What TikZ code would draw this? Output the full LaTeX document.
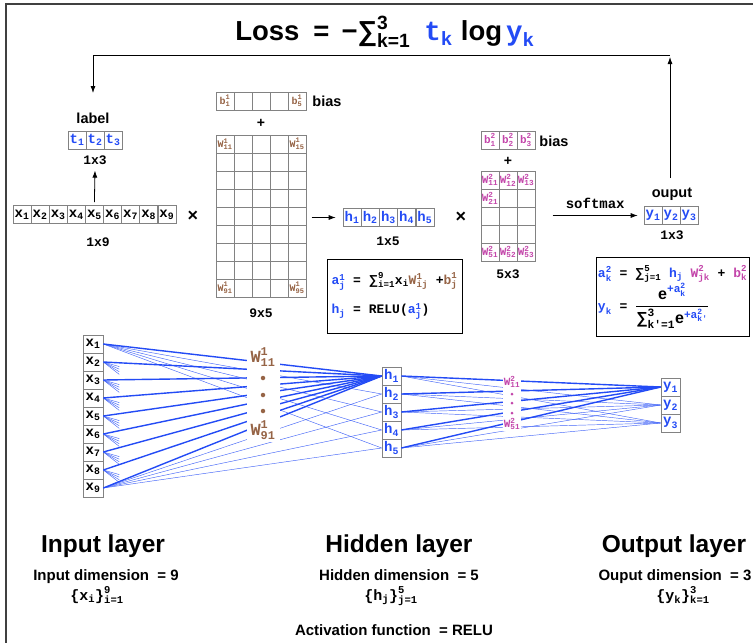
\documentclass[tikz,border=0pt]{standalone}
\usepackage{fontspec}
\usepackage{amsmath}
\setmainfont{Liberation Sans}
\setsansfont{Liberation Sans}
\setmonofont{Liberation Mono}
\usetikzlibrary{arrows.meta,calc}
\definecolor{nnblue}{RGB}{35,75,245}
\definecolor{wbrown}{RGB}{150,100,70}
\definecolor{wpink}{RGB}{195,70,170}
\definecolor{cellgray}{RGB}{130,130,130}
\newcommand{\nnsub}[2]{\ensuremath{\text{#1}_{\text{#2}}}}
\newcommand{\nnss}[3]{\ensuremath{\text{#1}^{\text{#2}}_{\text{#3}}}}
\newcommand{\nnexpa}[1]{\ensuremath{\text{\sffamily e}^{\text{\color{nnblue}+a}^{\text{\color{nnblue}2}}_{\text{\color{nnblue}#1}}}}}
\begin{document}
\begin{tikzpicture}[x=1pt,y=-1pt,
  arr/.style={-{Latex[length=7pt,width=5pt]}, line width=0.8pt},
  lbl/.style={font=\bfseries\fontsize{14.5}{14.5}\selectfont, inner sep=0pt},
  dimlbl/.style={font=\ttfamily\bfseries\fontsize{13}{13}\selectfont, inner sep=0pt},
  cell/.style={draw=cellgray, line width=0.6pt, minimum width=18pt, minimum height=18pt, inner sep=0pt, font=\ttfamily\bfseries\fontsize{14}{14}\selectfont},
  ncell/.style={cell, minimum width=20pt},
  mtext/.style={inner sep=0pt, font=\ttfamily\bfseries\fontsize{10}{10}\selectfont},
  ptext/.style={inner sep=0pt, font=\ttfamily\bfseries\fontsize{11}{11}\selectfont},
  opsign/.style={inner sep=0pt, font=\bfseries\fontsize{18}{18}\selectfont},
  fbox/.style={draw, line width=1pt, align=left, inner sep=0pt, font=\ttfamily\bfseries\fontsize{13}{13}\selectfont},
  wthick/.style={nnblue, line width=1.4pt},
  wthin/.style={nnblue!85, line width=0.45pt},
  big/.style={inner sep=0pt, anchor=base, font=\bfseries\fontsize{24.5}{24.5}\selectfont},
  mid/.style={inner sep=0pt, anchor=base, font=\bfseries\fontsize{15}{15}\selectfont},
  setl/.style={inner sep=0pt, anchor=base, font=\ttfamily\bfseries\fontsize{15}{15}\selectfont}
]
\useasboundingbox (0,0) rectangle (753,643);
\draw[line width=1.2pt, black!75] (753,4) -- (6,4) -- (6,643);

% Loss
\node[inner sep=0pt, anchor=base, font=\bfseries\fontsize{27.5}{27.5}\selectfont] (loss) at (385,40)
  {Loss\hspace{14pt}=\hspace{12pt}−\nnss{∑}{3}{k=1}\hspace{14pt}{\ttfamily\color{nnblue}\nnsub{t}{k}}\hspace{8pt}log\hspace{4pt}{\ttfamily\color{nnblue}\nnsub{y}{k}}};

% label and input vector
\node[lbl] (lab) at (93,118) {label};
\foreach \i/\xx in {1/77,2/95,3/113} \node[cell,text=nnblue] (t\i) at (\xx,140) {\nnsub{t}{\i}};
\node[dimlbl] (d13a) at (95,160) {1x3};
\foreach \i in {1,...,9} \node[cell] (x\i) at ({22+18.1*(\i-1)},214.5) {\nnsub{x}{\i}};
\node[dimlbl] (d19) at (98,242) {1x9};
\node[opsign] (mul1) at (193,216) {×};
\draw[arr] ([yshift=3pt]x5.north) -- ([yshift=-6pt]d13a.south);

% W1 and b1
\foreach \c in {1,...,5} \node[cell] (bA\c) at ({225+18*(\c-1)},101) {};
\node[mtext,text=wbrown] (lbA1) at (bA1) {\nnss{b}{1}{1}};
\node[mtext,text=wbrown] (lbA5) at (bA5) {\nnss{b}{1}{5}};
\node[lbl] (biasA) at (327,101) {bias};
\node[inner sep=0pt, font=\bfseries\fontsize{14}{14}\selectfont] (plusA) at (261,123) {+};
\foreach \r in {1,...,9}\foreach \c in {1,...,5} \node[cell] (wA\r\c) at ({225+18*(\c-1)},{144+18*(\r-1)}) {};
\node[mtext,text=wbrown] (lwA11) at (wA11) {\nnss{W}{1}{11}};
\node[mtext,text=wbrown] (lwA15) at (wA15) {\nnss{W}{1}{15}};
\node[mtext,text=wbrown] (lwA91) at (wA91) {\nnss{W}{1}{91}};
\node[mtext,text=wbrown] (lwA95) at (wA95) {\nnss{W}{1}{95}};
\node[dimlbl] (d95) at (261,313) {9x5};

% hidden vector
\foreach \i in {1,...,5} \node[cell,text=nnblue] (h\i) at ({352+18.2*(\i-1)},217.5) {\nnsub{h}{\i}};
\node[dimlbl] (d15) at (388,241) {1x5};
\node[opsign] (mul2) at (461,217) {×};
\draw[arr] ([xshift=-31pt]h1.west) -- ([xshift=-7pt]h1.west);

\node[fbox, minimum width=135pt, minimum height=74pt] (f1) at (394.5,296)
 {{\color{nnblue}\nnss{a}{1}{j}} = \nnss{\sffamily ∑}{9}{i=1}\nnsub{x}{i}{\color{wbrown}\nnss{W}{1}{ij}} +{\color{wbrown}\nnss{b}{1}{j}}\\[12pt]
  {\color{nnblue}\nnsub{h}{j}} = RELU({\color{nnblue}\nnss{a}{1}{j}})};

% W2 and b2
\foreach \c in {1,2,3} \node[cell] (bB\c) at ({490+18*(\c-1)},140) {};
\foreach \c in {1,2,3} \node[ptext,text=wpink] (lbB\c) at (bB\c) {\nnss{b}{2}{\c}};
\node[lbl] (biasB) at (554,141) {bias};
\node[inner sep=0pt, font=\bfseries\fontsize{14}{14}\selectfont] (plusB) at (508,161) {+};
\foreach \r in {1,...,5}\foreach \c in {1,2,3} \node[cell] (wB\r\c) at ({490+18*(\c-1)},{180+18*(\r-1)}) {};
\foreach \c in {1,2,3} \node[ptext,text=wpink] (lwB1\c) at (wB1\c) {\nnss{W}{2}{1\c}};
\node[ptext,text=wpink] (lwB21) at (wB21) {\nnss{W}{2}{21}};
\foreach \c in {1,2,3} \node[ptext,text=wpink] (lwB5\c) at (wB5\c) {\nnss{W}{2}{5\c}};
\node[dimlbl] (d53) at (508,274) {5x3};

% output
\node[lbl] (outlab) at (672,194) {ouput};
\foreach \i/\xx in {1/653,2/671,3/689} \node[cell,text=nnblue] (y\i) at (\xx,215.5) {\nnsub{y}{\i}};
\node[dimlbl] (d13b) at (672,235) {1x3};
\draw[arr] ([xshift=-91pt]y1.west) -- node[above=3pt, font=\ttfamily\bfseries\fontsize{14}{14}\selectfont] (smx) {softmax} ([xshift=-6pt]y1.west);

\node[fbox, minimum width=153pt, minimum height=79pt] (f2) at (672.5,296.5)
 {{\color{nnblue}\nnss{a}{2}{k}} = \nnss{\sffamily ∑}{5}{j=1} {\color{nnblue}\nnsub{h}{j}} {\color{wpink}\nnss{W}{2}{jk}} + {\color{wpink}\nnss{b}{2}{k}}\\[0pt]
  {\color{nnblue}\nnsub{y}{k}} = {\fontsize{16}{16}\selectfont\ensuremath{\displaystyle\frac{\nnexpa{k}}{\nnss{\sffamily ∑}{3}{k'=1}\nnexpa{k'}}}}};

% feedback loop
\coordinate (outtop) at (670,178);
\coordinate (fbRtip) at (670,57);
\coordinate (fbR) at (670,55);
\coordinate (fbL) at (93,55);
\coordinate (labin) at (93,93);
\draw[arr] (outtop) -- (fbRtip);
\draw[arr] (fbR) -- (fbL) -- (labin);

% network
\foreach \i in {1,...,9} \node[ncell] (nx\i) at (93,{344+18*(\i-1)}) {\nnsub{x}{\i}};
\foreach \j in {1,...,5} \node[ncell, minimum width=19pt, text=nnblue] (nh\j) at (391.5,{376+18*(\j-1)}) {\nnsub{h}{\j}};
\foreach \k in {1,2,3} \node[ncell, minimum width=19pt, text=nnblue] (ny\k) at (670.5,{387+18*(\k-1)}) {\nnsub{y}{\k}};

\foreach \j in {2,...,5} {
  \draw[wthin] (nx1.east) -- (nh\j.west);
  \draw[wthin] (nx9.east) -- (nh\j.west);
}
\foreach \i in {2,...,8} \foreach \j in {1,...,4} \draw[wthin] (nx\i.east) -- ++(16,{2+2.6*\j});
\foreach \i in {1,...,9} \draw[wthick] (nx\i.east) -- (nh1.west);
\foreach \j in {1,...,5} \foreach \k in {2,3} \draw[wthin] (nh\j.east) -- (ny\k.west);
\foreach \j in {1,...,5} \draw[wthick] (nh\j.east) -- (ny1.west);

\node[fill=white, minimum width=33pt, minimum height=97pt, inner sep=0pt] (w1mask) at (263.5,393.5) {};
\node[inner sep=0pt, text=wbrown, font=\ttfamily\bfseries\fontsize{17}{17}\selectfont] (nw11) at (263,357) {\nnss{W}{1}{11}};
\foreach \yy/\n in {378/1,395/2,411/3} \node[circle, fill=wbrown, inner sep=0pt, minimum size=4.5pt] (dA\n) at (263,\yy) {};
\node[inner sep=0pt, text=wbrown, font=\ttfamily\bfseries\fontsize{17}{17}\selectfont] (nw91) at (263,430) {\nnss{W}{1}{91}};

\node[fill=white, minimum width=18pt, minimum height=58pt, inner sep=0pt] (w2mask) at (512,402) {};
\node[inner sep=0pt, text=wpink, font=\ttfamily\bfseries\fontsize{11}{11}\selectfont] (nw211) at (512,382) {\nnss{W}{2}{11}};
\foreach \yy/\n in {394/1,403/2,413/3} \node[circle, fill=wpink, inner sep=0pt, minimum size=3pt] (dB\n) at (512,\yy) {};
\node[inner sep=0pt, text=wpink, font=\ttfamily\bfseries\fontsize{11}{11}\selectfont] (nw251) at (512,424) {\nnss{W}{2}{51}};

% bottom texts
\node[big] (inL) at (103,552) {Input layer};
\node[mid] (inD) at (106,580) {Input dimension \ = 9};
\node[setl] (inS) at (97,600) {\{\nnsub{x}{i}\nnss{\}}{9}{i=1}};
\node[big] (hidL) at (399,552) {Hidden layer};
\node[mid] (hidD) at (399,580) {Hidden dimension \ = 5};
\node[setl] (hidS) at (391,600) {\{\nnsub{h}{j}\nnss{\}}{5}{j=1}};
\node[mid] (act) at (394,635) {Activation function \ = RELU};
\node[big] (outL) at (674,552) {Output layer};
\node[mid] (outD) at (675,580) {Ouput dimension \ = 3};
\node[setl] (outS) at (683,600) {\{\nnsub{y}{k}\nnss{\}}{3}{k=1}};
\end{tikzpicture}
\end{document}
